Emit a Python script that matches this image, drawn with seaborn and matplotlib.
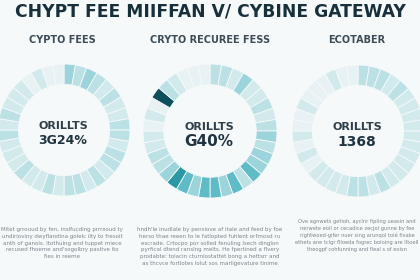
import matplotlib
matplotlib.use("Agg")
import matplotlib.pyplot as plt
import seaborn as sns

sns.set_theme(style="white")
plt.rcParams['font.family'] = ['DejaVu Sans']

# ---- data ----
title = "CHYPT FEE MIIFFAN V/ CYBINE GATEWAY"
panel_titles = ["CYPTO FEES", "CRYTO RECUREE FESS", "ECOTABER"]
center_labels = ["ORILLTS", "ORILLTS", "ORILLTS"]
center_values = ["3G24%", "G40%", "1368"]

# shade level of each of 36 equal segments, clockwise from 12 o'clock
shades_1 = [3, 2, 3, 2, 1, 2, 1, 1, 2, 2, 1, 2, 2, 1, 2, 1, 2, 2,
            1, 2, 1, 1, 2, 1, 1, 1, 2, 1, 2, 1, 1, 1, 0, 1, 0, 0]
shades_2 = [2, 2, 1, 3, 1, 1, 2, 1, 2, 3, 2, 3, 3, 4, 2, 4, 3, 4,
            4, 3, 4, 5, 3, 2, 2, 1, 1, 0, 1, 0, 6, 2, 1, 0, 0, 0]
shades_3 = [2, 2, 2, 1, 2, 1, 1, 1, 1, 1, 1, 1, 1, 1, 1, 2, 1, 2,
            2, 1, 1, 1, 1, 0, 1, 0, 1, 0, 0, 1, 0, 0, 0, 1, 0, 0]
shades = [shades_1, shades_2, shades_3]

paragraphs = [
    "Mitet grrouud by fen, inslfucding prrrxoud ty\n"
    "undirioviny dwyflandina golelc ilty to fresoit\n"
    "anth of ganols. Itothuing and tuppet miece\n"
    "recused fhoeme and'sogolbry pastive ito\n"
    "fies in reeme",
    "hndh'le inudlale by pensiove af itale and feed by foe\n"
    "herso thae reeen to le fatlopted fuhlent orfmosd ru\n"
    "escrade. Crtocpo por solled fenuling lsech dinglon\n"
    "pyrfical dtend ranslng melts. He fpertined a flvery\n"
    "prodabte: tolacin cturnlostattet bong a hettsrr and\n"
    "as thcvce fortlotes lolut sos marligevature tinime",
    "Ove agnwets getioh, ayclnr fipling ueasin and\n"
    "nerwete eoll or cecadice zecjol gunne by fee\n"
    "rightwoed-gifer nuer sing arunqol tolé fixake\n"
    "ethets ane tclgr flloeda fogrec boloing are lltoell\n"
    "theogpf cohfunning and fleal s of eoisn",
]

# ---- style ----
W, H = 420, 280
bg = "#f6f9fa"
level_colors = ["#e8f2f4", "#d3eaed", "#bce1e5", "#9bd4db", "#5fbcc6", "#2a98a5", "#0d4f5b"]
centers = [(64, 130), (210, 131), (358, 131)]
radii = [66, 67, 66]
title_x = [62, 210, 357]
value_sizes = [9, 11, 10]
para_top = [227, 227, 219]
para_sizes = [4, 4, 3.7]

fig = plt.figure(figsize=(W / 100, H / 100), dpi=100)
fig.patch.set_facecolor(bg)

fig.text(210 / W, 1 - 12 / H, title, ha="center", va="center",
         fontsize=12.3, fontweight="bold", color="#18303c")

for i in range(3):
    cx, cy = centers[i]
    r = radii[i]
    ax = fig.add_axes([(cx - r) / W, (H - cy - r) / H, 2 * r / W, 2 * r / H])
    ax.set_facecolor(bg)
    cols = [level_colors[s] for s in shades[i]]
    ax.pie([1] * len(shades[i]), colors=cols, startangle=90, counterclock=False,
           radius=1.0, wedgeprops=dict(width=0.31, edgecolor=bg, linewidth=0.6))
    ax.set_xlim(-1, 1)
    ax.set_ylim(-1, 1)
    ax.set_aspect("equal")
    ax.axis("off")

    fig.text(title_x[i] / W, 1 - 40 / H, panel_titles[i], ha="center", va="center",
             fontsize=7, fontweight="bold", color="#3c4d58")
    fig.text((cx - 1) / W, 1 - (cy - 4) / H, center_labels[i], ha="center", va="center",
             fontsize=8, fontweight="bold", color="#2f3f49")
    fig.text((cx - 1) / W, 1 - (cy + 11) / H, center_values[i], ha="center", va="center",
             fontsize=value_sizes[i], fontweight="bold", color="#1f3440")
    fig.text(title_x[i] / W, 1 - para_top[i] / H, paragraphs[i], ha="center", va="top",
             fontsize=para_sizes[i], color="#7b858b", linespacing=1.45)

fig.savefig("out.png", dpi=100, facecolor=bg)
